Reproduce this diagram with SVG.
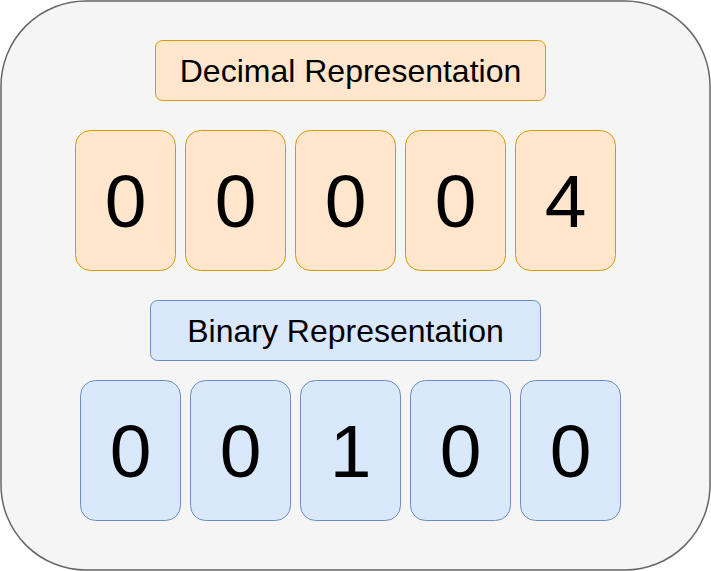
<svg xmlns="http://www.w3.org/2000/svg" width="711" height="571" viewBox="0 0 711 571">
<style>
.dec{fill:#ffe6cc;stroke:#d79b00;stroke-width:1}
.bin{fill:#dae8fc;stroke:#6c8ebf;stroke-width:1}
.lbl{font-family:"Liberation Sans",Arial,sans-serif;font-size:32px;fill:#000;text-anchor:middle}
.dig{font-family:"Liberation Sans",Arial,sans-serif;font-size:75px;fill:#000;text-anchor:middle}
</style>
<g id="container"><rect x="1" y="1" width="709" height="569" rx="85" ry="85" fill="#f5f5f5" stroke="#666666" stroke-width="1.5"/></g>
<g id="decimal-label"><rect class="dec" x="155.5" y="40.5" width="390" height="60" rx="7"/><text class="lbl" x="350.5" y="82">Decimal Representation</text></g>
<g id="d1"><rect class="dec" x="75.5" y="130.5" width="100" height="140" rx="15"/><text class="dig" x="125.5" y="227">0</text></g>
<g id="d2"><rect class="dec" x="185.5" y="130.5" width="100" height="140" rx="15"/><text class="dig" x="235.5" y="227">0</text></g>
<g id="d3"><rect class="dec" x="295.5" y="130.5" width="100" height="140" rx="15"/><text class="dig" x="345.5" y="227">0</text></g>
<g id="d4"><rect class="dec" x="405.5" y="130.5" width="100" height="140" rx="15"/><text class="dig" x="455.5" y="227">0</text></g>
<g id="d5"><rect class="dec" x="515.5" y="130.5" width="100" height="140" rx="15"/><text class="dig" x="565.5" y="227">4</text></g>
<g id="binary-label"><rect class="bin" x="150.5" y="300.5" width="390" height="60" rx="7"/><text class="lbl" x="345.5" y="342">Binary Representation</text></g>
<g id="b1"><rect class="bin" x="80.5" y="380.5" width="100" height="140" rx="15"/><text class="dig" x="130.5" y="477">0</text></g>
<g id="b2"><rect class="bin" x="190.5" y="380.5" width="100" height="140" rx="15"/><text class="dig" x="240.5" y="477">0</text></g>
<g id="b3"><rect class="bin" x="300.5" y="380.5" width="100" height="140" rx="15"/><text class="dig" x="350.5" y="477">1</text></g>
<g id="b4"><rect class="bin" x="410.5" y="380.5" width="100" height="140" rx="15"/><text class="dig" x="460.5" y="477">0</text></g>
<g id="b5"><rect class="bin" x="520.5" y="380.5" width="100" height="140" rx="15"/><text class="dig" x="570.5" y="477">0</text></g>
<g id="connectors"/>
</svg>
